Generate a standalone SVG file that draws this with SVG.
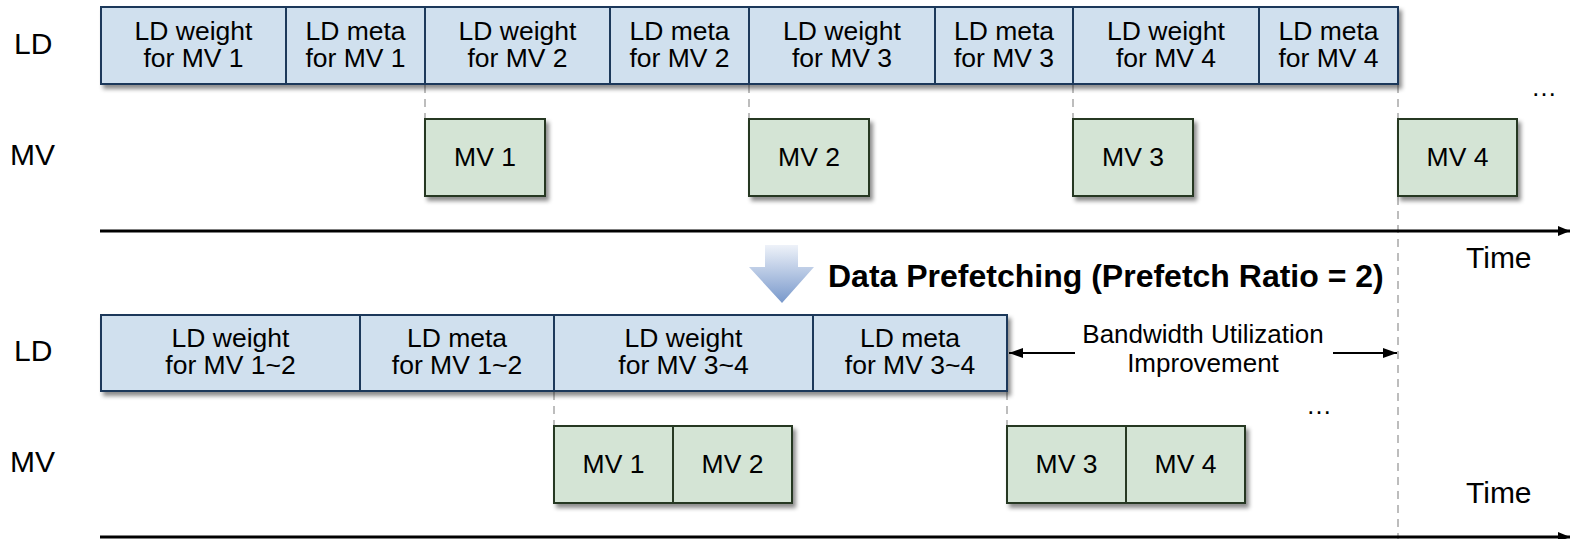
<svg xmlns="http://www.w3.org/2000/svg" width="1570" height="539" viewBox="0 0 1570 539">
<style>
text{font-family:"Liberation Sans",Arial,sans-serif;fill:#000}
.bt{font-size:26.5px;text-anchor:middle}
.lbl{font-size:30px}
.ld{fill:#d0e0ee;stroke:#1c395a;stroke-width:2}
.mv{fill:#d4e4d5;stroke:#283924;stroke-width:2}
.sep{stroke:#1c395a;stroke-width:2}
.sepg{stroke:#283924;stroke-width:2}
.dash{stroke:#bdbdbd;stroke-width:2;stroke-dasharray:8 6;fill:none}
.axis{stroke:#000;stroke-width:3;fill:none}
.bw{stroke:#000;stroke-width:2;fill:none}
</style>
<defs>
<filter id="sh" x="-10%" y="-10%" width="130%" height="140%">
<feDropShadow dx="3" dy="4" stdDeviation="2.2" flood-color="#000" flood-opacity="0.45"/>
</filter>
<marker id="ah" viewBox="0 0 12 10" refX="12" refY="5" markerWidth="12" markerHeight="10" markerUnits="userSpaceOnUse" orient="auto">
<path d="M0,0 L12,5 L0,10 Z" fill="#000"/>
</marker>
<marker id="ah2" viewBox="0 0 14 10" refX="14" refY="5" markerWidth="14" markerHeight="10" markerUnits="userSpaceOnUse" orient="auto">
<path d="M0,0 L14,5 L0,10 Z" fill="#000"/>
</marker>
<linearGradient id="ag" x1="0" y1="0" x2="0" y2="1">
<stop offset="0" stop-color="#eef2f9"/>
<stop offset="1" stop-color="#7898cb"/>
</linearGradient>
</defs>

<g id="labels">
<text class="lbl" x="14" y="54">LD</text>
<text class="lbl" x="10" y="165">MV</text>
<text class="lbl" x="14" y="361">LD</text>
<text class="lbl" x="10" y="472">MV</text>
<text class="lbl" x="1466" y="268">Time</text>
<text class="lbl" x="1466" y="503">Time</text>
<text style="font-size:26px" x="1531" y="96">…</text>
<text style="font-size:26px" x="1306" y="414">…</text>
</g>

<g id="connectors">
<line class="dash" x1="425" y1="85" x2="425" y2="119"/>
<line class="dash" x1="749" y1="85" x2="749" y2="119"/>
<line class="dash" x1="1073" y1="85" x2="1073" y2="119"/>
<line class="dash" x1="1398" y1="85" x2="1398" y2="539"/>
<line class="dash" x1="554" y1="392" x2="554" y2="426"/>
<line class="dash" x1="1007" y1="392" x2="1007" y2="426"/>
<line class="axis" x1="100" y1="231" x2="1570" y2="231" marker-end="url(#ah)"/>
<line class="axis" x1="100" y1="537" x2="1570" y2="537" marker-end="url(#ah)"/>
<line class="bw" x1="1075" y1="353" x2="1009" y2="353" marker-end="url(#ah2)"/>
<line class="bw" x1="1333" y1="353" x2="1397" y2="353" marker-end="url(#ah2)"/>
</g>

<g id="ld-top">
<rect class="ld" x="101" y="7" width="1297" height="77" filter="url(#sh)"/>
<line class="sep" x1="286" y1="7" x2="286" y2="84"/>
<line class="sep" x1="425" y1="7" x2="425" y2="84"/>
<line class="sep" x1="610" y1="7" x2="610" y2="84"/>
<line class="sep" x1="749" y1="7" x2="749" y2="84"/>
<line class="sep" x1="935" y1="7" x2="935" y2="84"/>
<line class="sep" x1="1073" y1="7" x2="1073" y2="84"/>
<line class="sep" x1="1259" y1="7" x2="1259" y2="84"/>
<text class="bt" x="193.5" y="40">LD weight</text><text class="bt" x="193.5" y="67">for MV 1</text>
<text class="bt" x="355.5" y="40">LD meta</text><text class="bt" x="355.5" y="67">for MV 1</text>
<text class="bt" x="517.5" y="40">LD weight</text><text class="bt" x="517.5" y="67">for MV 2</text>
<text class="bt" x="679.5" y="40">LD meta</text><text class="bt" x="679.5" y="67">for MV 2</text>
<text class="bt" x="842" y="40">LD weight</text><text class="bt" x="842" y="67">for MV 3</text>
<text class="bt" x="1004" y="40">LD meta</text><text class="bt" x="1004" y="67">for MV 3</text>
<text class="bt" x="1166" y="40">LD weight</text><text class="bt" x="1166" y="67">for MV 4</text>
<text class="bt" x="1328.5" y="40">LD meta</text><text class="bt" x="1328.5" y="67">for MV 4</text>
</g>

<g id="mv1-top"><rect class="mv" x="425" y="119" width="120" height="77" filter="url(#sh)"/><text class="bt" x="485" y="166">MV 1</text></g>
<g id="mv2-top"><rect class="mv" x="749" y="119" width="120" height="77" filter="url(#sh)"/><text class="bt" x="809" y="166">MV 2</text></g>
<g id="mv3-top"><rect class="mv" x="1073" y="119" width="120" height="77" filter="url(#sh)"/><text class="bt" x="1133" y="166">MV 3</text></g>
<g id="mv4-top"><rect class="mv" x="1398" y="119" width="119" height="77" filter="url(#sh)"/><text class="bt" x="1457.5" y="166">MV 4</text></g>

<g id="prefetch">
<polygon points="765,245 798,245 798,267 814,267 782,303 749,267 765,267" fill="url(#ag)"/>
<text x="828" y="287" style="font-size:32px;font-weight:bold">Data Prefetching (Prefetch Ratio = 2)</text>
</g>

<g id="ld-bottom">
<rect class="ld" x="101" y="315" width="906" height="76" filter="url(#sh)"/>
<line class="sep" x1="360" y1="315" x2="360" y2="391"/>
<line class="sep" x1="554" y1="315" x2="554" y2="391"/>
<line class="sep" x1="813" y1="315" x2="813" y2="391"/>
<text class="bt" x="230.5" y="347">LD weight</text><text class="bt" x="230.5" y="374">for MV 1~2</text>
<text class="bt" x="457" y="347">LD meta</text><text class="bt" x="457" y="374">for MV 1~2</text>
<text class="bt" x="683.5" y="347">LD weight</text><text class="bt" x="683.5" y="374">for MV 3~4</text>
<text class="bt" x="910" y="347">LD meta</text><text class="bt" x="910" y="374">for MV 3~4</text>
</g>

<g id="bandwidth">
<text class="bt" style="font-size:26px" x="1203" y="343">Bandwidth Utilization</text>
<text class="bt" style="font-size:26px" x="1203" y="372">Improvement</text>
</g>

<g id="mv12-bottom">
<rect class="mv" x="554" y="426" width="238" height="77" filter="url(#sh)"/>
<line class="sepg" x1="673" y1="426" x2="673" y2="503"/>
<text class="bt" x="613.5" y="473">MV 1</text><text class="bt" x="732.5" y="473">MV 2</text>
</g>
<g id="mv34-bottom">
<rect class="mv" x="1007" y="426" width="238" height="77" filter="url(#sh)"/>
<line class="sepg" x1="1126" y1="426" x2="1126" y2="503"/>
<text class="bt" x="1066.5" y="473">MV 3</text><text class="bt" x="1185.5" y="473">MV 4</text>
</g>
</svg>
